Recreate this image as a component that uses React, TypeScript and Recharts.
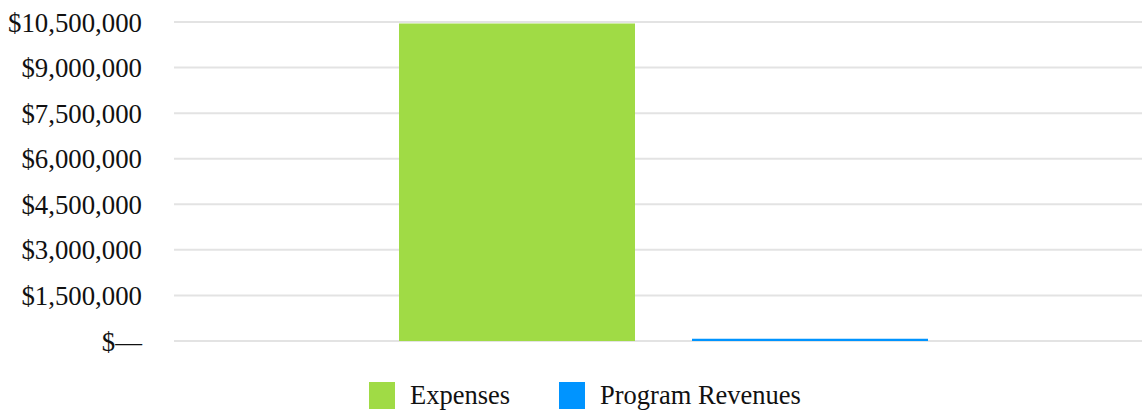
import { BarChart, Bar, XAxis, YAxis, CartesianGrid, Legend } from "recharts";

const categories = ["Total"];
const expenses = [10450000];
const programRevenues = [75000];
const yTicks = [0, 1500000, 3000000, 4500000, 6000000, 7500000, 9000000, 10500000];

const seriesNames = ["Expenses", "Program Revenues"];
const seriesColors = ["#A0DB45", "#0094FF"];

const data = categories.map((name, i) => ({
  name,
  expenses: expenses[i],
  programRevenues: programRevenues[i],
}));

const fmt = (v: number) => (v === 0 ? "$\u2014" : "$" + v.toLocaleString("en-US"));

const font = '"Liberation Serif", "Times New Roman", serif';

function LegendBox() {
  return (
    <div style={{ height: 69, position: "relative", fontFamily: font, fontSize: 26.5, color: "#111" }}>
      {seriesNames.map((name, i) => (
        <div
          key={name}
          style={{ position: "absolute", left: i === 0 ? 369 : 559, top: 39, display: "flex", alignItems: "center" }}
        >
          <span style={{ display: "inline-block", width: 26, height: 27, background: seriesColors[i], marginRight: 15 }} />
          <span style={{ lineHeight: "30px" }}>{name}</span>
        </div>
      ))}
    </div>
  );
}

export default function App() {
  return (
    <div style={{ position: "absolute", left: 0, top: 0, width: 1142, height: 410, overflow: "hidden", background: "#fff" }}>
      <BarChart
        width={1142}
        height={410}
        data={data}
        margin={{ top: 22, right: 0, left: 0, bottom: 0 }}
        barSize={236}
        barGap={57}
      >
        <CartesianGrid vertical={false} stroke="#e3e3e3" strokeWidth={2} />
        <XAxis dataKey="name" hide padding={{ left: 11, right: 0 }} />
        <YAxis
          width={174}
          domain={[0, 10500000]}
          ticks={yTicks}
          interval={0}
          tickFormatter={fmt}
          axisLine={false}
          tickLine={false}
          tickSize={6}
          tickMargin={26}
          tick={{ fill: "#111", fontSize: 26.8, fontFamily: font }}
        />
        <Legend verticalAlign="bottom" content={<LegendBox />} wrapperStyle={{ left: 0, width: 1142 }} />
        <Bar dataKey="expenses" name={seriesNames[0]} fill={seriesColors[0]} isAnimationActive={false} />
        <Bar dataKey="programRevenues" name={seriesNames[1]} fill={seriesColors[1]} isAnimationActive={false} />
      </BarChart>
    </div>
  );
}
